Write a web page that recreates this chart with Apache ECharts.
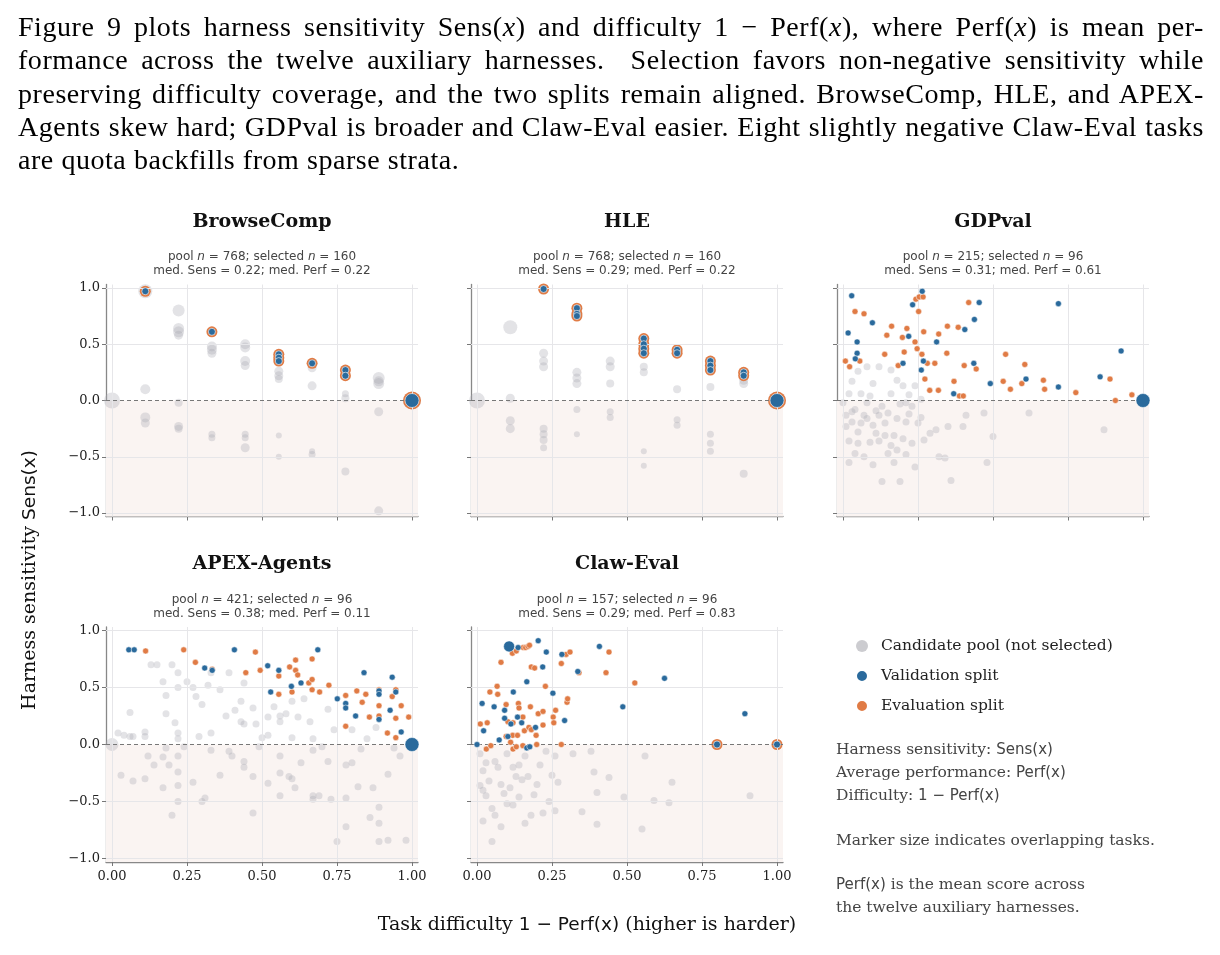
<!DOCTYPE html>
<html><head><meta charset="utf-8">
<script src="https://cdn.jsdelivr.net/npm/echarts@6/dist/echarts.min.js"></script>
<style>
body{margin:0;background:#fff;width:1220px;height:955px;overflow:hidden;position:relative}
#c{position:absolute;left:0;top:0;width:1220px;height:955px}
#p{position:absolute;left:18px;top:10px;width:1186px;font-family:"Liberation Serif",serif;font-size:28px;letter-spacing:0.55px;line-height:33.3px;color:#000}
#p div{text-align:justify;text-align-last:justify;white-space:nowrap}
#p div.l{text-align-last:left}
</style></head><body>
<div id="c"></div>
<div id="p">
<div>Figure 9 plots harness sensitivity Sens(<i>x</i>) and difficulty 1 − Perf(<i>x</i>), where Perf(<i>x</i>) is mean per-</div>
<div>formance across the twelve auxiliary harnesses.&nbsp; Selection favors non-negative sensitivity while</div>
<div>preserving difficulty coverage, and the two splits remain aligned. BrowseComp, HLE, and APEX-</div>
<div>Agents skew hard; GDPval is broader and Claw-Eval easier. Eight slightly negative Claw-Eval tasks</div>
<div class="l">are quota backfills from sparse strata.</div>
</div>
<script>
const panelNames=["BrowseComp","HLE","GDPval","APEX-Agents","Claw-Eval"];
const poolN=[768,768,215,421,157];
const selN=[160,160,96,96,96];
const medSens=["0.22","0.29","0.31","0.38","0.29"];
const medPerf=["0.22","0.22","0.61","0.11","0.83"];
const xTicks=[0,0.25,0.5,0.75,1];
const yTicks=[-1,-0.5,0,0.5,1];

// [difficulty, sensitivity, (optional marker size)]
const browsePool=[[0,0,16],[0.111,0.97,14],[0.111,0.1,10],[0.111,-0.15,10],[0.111,-0.2,9],[0.222,0.8,12],[0.222,0.64,11],[0.222,0.61,11],[0.222,0.58,9],[0.222,-0.02,8],[0.222,-0.23,9],[0.222,-0.25,8],[0.333,0.48,10],[0.333,0.45,10],[0.333,0.42,9],[0.333,-0.3,7],[0.333,-0.33,7],[0.444,0.5,10],[0.444,0.47,10],[0.444,0.35,10],[0.444,0.31,9],[0.444,-0.3,7],[0.444,-0.33,7],[0.444,-0.42,9],[0.556,0.26,9],[0.556,0.22,9],[0.556,0.19,8],[0.556,-0.31,6],[0.556,-0.5,6],[0.667,0.29,9],[0.667,0.13,9],[0.667,-0.45,6],[0.667,-0.48,7],[0.778,0.06,7],[0.778,0.02,8],[0.778,-0.63,8],[0.889,0.2,12],[0.889,0.15,11],[0.889,0.17,10],[0.889,-0.1,9],[0.889,-0.98,9],[1,0,18]];
const browseBoth=[[0.111,0.97],[0.333,0.61],[0.556,0.41],[0.556,0.38],[0.556,0.35],[0.667,0.33],[0.778,0.27],[0.778,0.22],[1,0,14]];
const hlePool=[[0,0,16],[0.111,0.65,14],[0.111,0.02,9],[0.111,-0.18,9],[0.111,-0.25,9],[0.222,0.42,9],[0.222,0.35,9],[0.222,0.3,9],[0.222,-0.25,8],[0.222,-0.3,8],[0.222,-0.35,8],[0.222,-0.42,7],[0.333,0.25,9],[0.333,0.2,9],[0.333,0.15,9],[0.333,-0.08,7],[0.333,-0.3,6],[0.444,0.35,9],[0.444,0.3,9],[0.444,0.15,8],[0.444,-0.1,7],[0.444,-0.15,7],[0.556,0.3,8],[0.556,0.25,8],[0.556,-0.45,6],[0.556,-0.58,6],[0.667,0.1,8],[0.667,-0.17,7],[0.667,-0.22,7],[0.778,0.12,8],[0.778,-0.3,7],[0.778,-0.38,7],[0.778,-0.45,7],[0.889,0.18,9],[0.889,0.15,9],[0.889,-0.65,8],[1,0,18]];
const hleBoth=[[0.222,0.99],[0.333,0.82],[0.333,0.77],[0.333,0.75],[0.556,0.55],[0.556,0.5],[0.556,0.46],[0.556,0.42],[0.667,0.45],[0.667,0.42],[0.778,0.35],[0.778,0.31],[0.778,0.27],[0.889,0.25],[0.889,0.22],[1,0,14]];

const gdpPool=[[0.0,-0.02],[0.01,-0.13],[0.01,-0.23],[0.02,-0.36],[0.02,-0.55],[0.03,0.17],[0.03,-0.1],[0.04,-0.08],[0.04,-0.47],[0.05,0.26],[0.05,-0.28],[0.06,-0.2],[0.06,0.06],[0.07,-0.13],[0.07,-0.5],[0.08,0.3],[0.08,-0.16],[0.09,-0.37],[0.09,0.04],[0.1,-0.22],[0.1,-0.57],[0.11,-0.09],[0.11,-0.29],[0.12,0.3],[0.12,-0.36],[0.13,-0.05],[0.13,-0.72],[0.14,-0.2],[0.15,-0.47],[0.15,-0.11],[0.16,0.06],[0.16,0.27],[0.17,-0.31],[0.17,-0.55],[0.18,-0.16],[0.18,0.18],[0.19,-0.03],[0.19,-0.72],[0.2,-0.34],[0.2,0.13],[0.21,-0.19],[0.21,-0.48],[0.22,0.05],[0.22,-0.12],[0.23,-0.38],[0.23,-0.05],[0.24,-0.59],[0.24,0.13],[0.25,-0.2],[0.26,0.01],[0.27,-0.35],[0.29,-0.29],[0.31,-0.26],[0.32,-0.5],[0.34,-0.51],[0.35,-0.23],[0.36,-0.71],[0.4,-0.23],[0.41,-0.13],[0.47,-0.11],[0.48,-0.55],[0.5,-0.32],[0.62,-0.11],[0.87,-0.26],[0.02,0.06],[0.05,-0.38],[0.08,-0.02],[0.1,0.15],[0.14,-0.31],[0.18,-0.44],[0.21,-0.02],[0.26,-0.15],[0.03,-0.19],[0.12,-0.13],[0.16,-0.4]];
const gdpVal=[[0.029,0.93],[0.264,0.97],[0.454,0.87],[0.718,0.86],[0.232,0.85],[0.098,0.69],[0.438,0.72],[0.406,0.63],[0.017,0.6],[0.219,0.57],[0.047,0.52],[0.312,0.52],[0.047,0.42],[0.041,0.37],[0.268,0.35],[0.2,0.33],[0.436,0.33],[0.927,0.44],[0.261,0.27],[0.61,0.19],[0.857,0.21],[0.491,0.15],[0.718,0.12],[0.369,0.06],[1,0,14]];
const gdpEval=[[0.04,0.79],[0.07,0.77],[0.243,0.9],[0.254,0.92],[0.267,0.92],[0.252,0.79],[0.419,0.87],[0.162,0.66],[0.146,0.58],[0.213,0.64],[0.198,0.56],[0.269,0.61],[0.319,0.59],[0.348,0.66],[0.384,0.65],[0.24,0.52],[0.247,0.46],[0.204,0.43],[0.139,0.41],[0.263,0.41],[0.346,0.42],[0.008,0.35],[0.022,0.3],[0.056,0.35],[0.184,0.31],[0.281,0.33],[0.306,0.33],[0.404,0.31],[0.444,0.28],[0.542,0.41],[0.606,0.32],[0.273,0.19],[0.289,0.09],[0.318,0.09],[0.37,0.17],[0.388,0.04],[0.401,0.04],[0.534,0.17],[0.558,0.1],[0.596,0.15],[0.668,0.18],[0.672,0.1],[0.776,0.07],[0.89,0.19],[0.908,0.0],[0.963,0.05]];

const apexPool=[[0,0,13],[0.02,0.1],[0.04,0.08],[0.06,0.07],[0.07,0.07],[0.11,0.07],[0.11,0.11],[0.13,0.7],[0.15,0.7],[0.17,0.55],[0.18,0.27],[0.18,0.43],[0.21,0.19],[0.2,0.7],[0.22,0.63],[0.22,0.5],[0.22,0.1],[0.22,0.05],[0.25,0.55],[0.27,0.5],[0.28,0.42],[0.29,0.07],[0.3,0.35],[0.32,0.52],[0.33,0.63],[0.36,0.48],[0.38,0.25],[0.39,0.63],[0.41,0.3],[0.43,0.2],[0.43,0.38],[0.44,0.54],[0.44,0.18],[0.47,0.32],[0.48,0.18],[0.5,0.06],[0.52,0.08],[0.54,0.33],[0.56,0.2],[0.56,0.25],[0.58,0.27],[0.6,0.38],[0.62,0.24],[0.64,0.4],[0.66,0.2],[0.67,0.05],[0.72,0.31],[0.74,0.13],[0.8,0.13],[0.85,0.05],[0.88,0.15],[0.03,-0.27],[0.07,-0.32],[0.11,-0.3],[0.12,-0.1],[0.14,-0.18],[0.17,-0.38],[0.17,-0.11],[0.19,-0.18],[0.2,-0.62],[0.22,-0.1],[0.22,-0.24],[0.22,-0.36],[0.22,-0.5],[0.24,-0.02],[0.27,-0.33],[0.3,-0.5],[0.31,-0.47],[0.33,-0.05],[0.36,-0.27],[0.39,-0.06],[0.4,-0.1],[0.44,-0.15],[0.44,-0.2],[0.47,-0.28],[0.47,-0.6],[0.49,-0.02],[0.52,-0.34],[0.56,-0.1],[0.56,-0.25],[0.56,-0.45],[0.59,-0.28],[0.6,-0.3],[0.61,-0.38],[0.63,-0.16],[0.67,-0.05],[0.67,-0.45],[0.67,-0.48],[0.69,-0.45],[0.72,-0.15],[0.73,-0.48],[0.75,-0.85],[0.78,-0.18],[0.78,-0.47],[0.78,-0.72],[0.8,-0.16],[0.82,-0.37],[0.86,-0.64],[0.87,-0.38],[0.89,-0.55],[0.89,-0.69],[0.89,-0.85],[0.92,-0.26],[0.92,-0.84],[0.96,-0.1],[0.98,-0.84],[0.06,0.28],[0.18,-0.03],[0.33,0.1],[0.52,0.24],[0.6,0.06],[0.7,-0.02],[0.83,-0.04],[0.94,-0.03]];
const apexVal=[[0.056,0.83],[0.074,0.83],[0.408,0.83],[0.686,0.83],[0.309,0.67],[0.334,0.65],[0.519,0.69],[0.556,0.65],[0.529,0.46],[0.598,0.51],[0.63,0.54],[0.84,0.63],[0.934,0.59],[0.89,0.47],[0.89,0.44],[0.946,0.46],[0.751,0.4],[0.779,0.36],[0.779,0.32],[0.812,0.25],[0.89,0.22],[0.927,0.3],[0.964,0.11],[1,0,14]];
const apexEval=[[0.112,0.82],[0.239,0.83],[0.478,0.81],[0.278,0.72],[0.334,0.66],[0.446,0.63],[0.494,0.65],[0.556,0.6],[0.556,0.44],[0.592,0.68],[0.612,0.74],[0.612,0.65],[0.619,0.61],[0.6,0.46],[0.656,0.54],[0.667,0.57],[0.667,0.75],[0.667,0.48],[0.692,0.46],[0.723,0.52],[0.779,0.43],[0.779,0.16],[0.816,0.47],[0.846,0.44],[0.834,0.37],[0.858,0.24],[0.89,0.34],[0.89,0.25],[0.89,0.48],[0.946,0.48],[0.934,0.42],[0.964,0.34],[0.946,0.23],[0.989,0.24],[0.918,0.1],[0.946,0.06]];

const clawPool=[[0.01,-0.08],[0.01,-0.36],[0.02,-0.23],[0.02,-0.4],[0.02,-0.67],[0.03,-0.16],[0.04,-0.32],[0.05,-0.56],[0.05,-0.85],[0.06,-0.62],[0.06,-0.15],[0.07,-0.2],[0.08,-0.35],[0.09,-0.43],[0.1,-0.52],[0.1,-0.08],[0.11,-0.38],[0.12,-0.53],[0.13,-0.28],[0.14,-0.18],[0.14,-0.46],[0.15,-0.31],[0.16,-0.69],[0.16,-0.1],[0.17,-0.28],[0.18,-0.62],[0.19,-0.44],[0.21,-0.18],[0.22,-0.6],[0.23,-0.06],[0.24,-0.5],[0.25,-0.27],[0.26,-0.1],[0.27,-0.33],[0.32,-0.08],[0.35,-0.59],[0.38,-0.06],[0.39,-0.24],[0.4,-0.42],[0.4,-0.7],[0.44,-0.29],[0.49,-0.46],[0.56,-0.1],[0.55,-0.74],[0.59,-0.49],[0.64,-0.51],[0.65,-0.33],[0.91,-0.45],[0.03,-0.45],[0.08,-0.72],[0.12,-0.2],[0.2,-0.35],[0.26,-0.58]];
const clawVal=[[0,0],[0.017,0.36],[0.022,0.12],[0.057,0.33],[0.074,0.04],[0.092,0.3],[0.092,0.23],[0.103,0.07],[0.107,0.86,11],[0.113,0.18],[0.121,0.46],[0.137,0.85],[0.135,0.24],[0.149,0.19],[0.166,0.55],[0.166,-0.03],[0.176,-0.02],[0.195,0.15],[0.204,0.91],[0.219,0.68],[0.231,0.81],[0.253,0.45],[0.283,0.79],[0.292,0.21],[0.336,0.64],[0.408,0.86],[0.486,0.33],[0.625,0.58],[0.893,0.27]];
const clawEval=[[0.011,0.18],[0.034,0.19],[0.031,-0.04],[0.046,-0.01],[0.043,0.46],[0.067,0.51],[0.069,0.44],[0.08,0.72],[0.097,0.35],[0.097,0.07],[0.103,0.2],[0.112,0.02],[0.119,0.08],[0.12,-0.04],[0.12,0.19],[0.118,0.8],[0.131,0.82],[0.131,-0.02],[0.135,0.08],[0.138,0.36],[0.14,0.32],[0.153,0.24],[0.153,-0.01],[0.154,0.85],[0.162,0.85],[0.17,0.86],[0.175,0.87],[0.158,0.12],[0.173,0.15],[0.178,0.33],[0.181,0.13],[0.181,0.68],[0.192,0.67],[0.197,0.08],[0.199,0.0],[0.204,0.27],[0.22,0.29],[0.22,0.17],[0.228,0.51],[0.254,0.24],[0.256,0.19],[0.262,0.3],[0.281,0.0],[0.281,0.71],[0.3,0.37],[0.302,0.4],[0.297,0.79],[0.31,0.81],[0.34,0.63],[0.43,0.63],[0.44,0.81],[0.526,0.54]];
const clawBoth=[[0.8,0],[1,0]];

const panels=[
 {pool:browsePool,val:[],ev:[],both:browseBoth},
 {pool:hlePool,val:[],ev:[],both:hleBoth},
 {pool:gdpPool,val:gdpVal,ev:gdpEval,both:[]},
 {pool:apexPool,val:apexVal,ev:apexEval,both:[]},
 {pool:clawPool,val:clawVal,ev:clawEval,both:clawBoth}
];
const lefts=[106,471,837,106,471], tops=[284.5,284.5,284.5,627,627], hs=[232,232,232,235,235];
const W=312;
const BLUE='#2a6a9c', ORANGE='#e07b45', GRAY='rgba(170,170,178,0.33)';
const serif='"DejaVu Serif",serif';
const fmtMinus=v=>String(v).replace('-','−');

const grid=[],xAxis=[],yAxis=[],series=[],graphic=[];
panels.forEach((p,i)=>{
  grid.push({left:lefts[i],top:tops[i],width:W,height:hs[i]});
  const row2=i>=3, col1=(i===0||i===3);
  xAxis.push({gridIndex:i,type:'value',min:-0.02,max:1.02,splitLine:{show:false},
    axisLine:{show:true,onZero:false,lineStyle:{color:'#888',width:1.3}},
    axisTick:{show:true,length:4,customValues:xTicks,lineStyle:{color:'#777'}},
    axisLabel:{show:row2,customValues:xTicks,formatter:v=>v.toFixed(2),fontFamily:serif,fontSize:13,color:'#222',margin:8}});
  yAxis.push({gridIndex:i,type:'value',min:-1.03,max:1.03,splitLine:{show:false},
    axisLine:{show:true,onZero:false,lineStyle:{color:'#888',width:1.3}},
    axisTick:{show:true,length:4,customValues:yTicks,lineStyle:{color:'#777'}},
    axisLabel:{show:col1,customValues:yTicks,formatter:v=>fmtMinus(v.toFixed(1)),fontFamily:serif,fontSize:13,color:'#222',margin:6}});
  const gl=[];
  xTicks.forEach(t=>gl.push({xAxis:t,lineStyle:{color:'#e6e6e9',width:1,type:'solid'}}));
  yTicks.forEach(t=>{ if(t!==0) gl.push({yAxis:t,lineStyle:{color:'#e6e6e9',width:1,type:'solid'}});});
  gl.push({yAxis:0,lineStyle:{color:'#777',width:1.2,type:[4,3]}});
  series.push({type:'scatter',name:'_bg',xAxisIndex:i,yAxisIndex:i,data:[],silent:true,
    markArea:{silent:true,itemStyle:{color:'#faf4f2'},data:[[{yAxis:-1.03},{yAxis:0}]]},
    markLine:{silent:true,symbol:'none',label:{show:false},data:gl,animation:false}});
  series.push({type:'scatter',name:'Candidate pool (not selected)',xAxisIndex:i,yAxisIndex:i,data:p.pool,
    symbolSize:v=>v[2]||7,itemStyle:{color:GRAY,opacity:1},z:3});
  series.push({type:'scatter',name:'_ring',xAxisIndex:i,yAxisIndex:i,data:p.both,
    symbolSize:v=>(v[2]||7)+4,itemStyle:{color:ORANGE,opacity:1},z:4});
  series.push({type:'scatter',name:'_ringc',xAxisIndex:i,yAxisIndex:i,data:p.both,
    symbolSize:v=>v[2]||7,itemStyle:{color:BLUE,borderColor:'#fff',borderWidth:0.6,opacity:1},z:5});
  series.push({type:'scatter',name:'Evaluation split',xAxisIndex:i,yAxisIndex:i,data:p.ev,
    symbolSize:v=>v[2]||6,itemStyle:{color:ORANGE,borderColor:'#fff',borderWidth:0.5,opacity:1},z:5});
  series.push({type:'scatter',name:'Validation split',xAxisIndex:i,yAxisIndex:i,data:p.val,
    symbolSize:v=>v[2]||6,itemStyle:{color:BLUE,borderColor:'#fff',borderWidth:0.5,opacity:1},z:6});
  const cx=lefts[i]+W/2, ty=row2?564:222, sy=row2?600:257;
  graphic.push({type:'text',x:cx,y:ty,style:{text:panelNames[i],font:'bold 19px '+serif,fill:'#111',align:'center',verticalAlign:'middle'}});
  graphic.push({type:'text',x:cx,y:sy,style:{text:'{a|pool }{i|n}{a| = '+poolN[i]+'; selected }{i|n}{a| = '+selN[i]+'}',align:'center',verticalAlign:'middle',
    rich:{a:{fontFamily:'DejaVu Sans',fontSize:12,fill:'#444'},i:{fontFamily:'DejaVu Sans',fontStyle:'italic',fontSize:12,fill:'#444'}}}});
  graphic.push({type:'text',x:cx,y:sy+14,style:{text:'med. Sens = '+medSens[i]+'; med. Perf = '+medPerf[i],align:'center',verticalAlign:'middle',font:'12px "DejaVu Sans"',fill:'#444'}});
});
const ann=[['Harness sensitivity: ','Sens(x)',750],['Average performance: ','Perf(x)',773],['Difficulty: ','1 − Perf(x)',796],['Marker size indicates overlapping tasks.','',841],['','Perf(x)',885],['the twelve auxiliary harnesses.','',908]];
const annRich={s:{fontFamily:serif,fontSize:15.5,fill:'#444'},m:{fontFamily:'DejaVu Sans',fontSize:15,fill:'#444'}};
ann.forEach(a=>{
  let t=(a[0]?'{s|'+a[0]+'}':'')+(a[1]?'{m|'+a[1]+'}':'');
  if(a[2]===885) t='{m|Perf(x)}{s| is the mean score across}';
  graphic.push({type:'text',x:836,y:a[2],style:{text:t,rich:annRich,verticalAlign:'middle'}});
});
const titleRich={s:{fontFamily:serif,fontSize:19,fill:'#111'},m:{fontFamily:'DejaVu Sans',fontSize:18.5,fill:'#111'}};
graphic.push({type:'text',x:30,y:580,rotation:Math.PI/2,style:{text:'{s|Harness sensitivity }{m|Sens(x)}',rich:titleRich,align:'center',verticalAlign:'middle'}});
graphic.push({type:'text',x:587,y:925,style:{text:'{s|Task difficulty }{m|1 − Perf(x)}{s| (higher is harder)}',rich:titleRich,align:'center',verticalAlign:'middle'}});

const chart=echarts.init(document.getElementById('c'));
chart.setOption({animation:false,grid,xAxis,yAxis,series,graphic,
  legend:{orient:'vertical',left:850,top:633,itemGap:14,itemWidth:12,itemHeight:12,icon:'circle',
    data:[{name:'Candidate pool (not selected)',itemStyle:{color:'#ccccd0'}},{name:'Validation split'},{name:'Evaluation split'}],
    textStyle:{fontFamily:serif,fontSize:15.5,color:'#222',padding:[0,0,0,8]}}});
</script></body></html>
